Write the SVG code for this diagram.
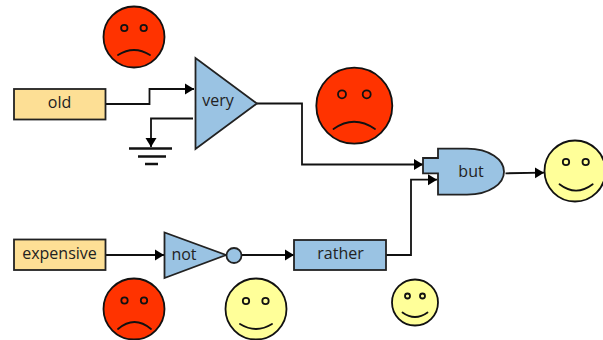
<svg xmlns="http://www.w3.org/2000/svg" width="603" height="340" viewBox="0 0 603 340">
<style>
.box{stroke:#222;stroke-width:1.8}
.in{fill:#fddf95}
.blue{fill:#9ac3e3}
.sad{fill:#ff3300}
.happy{fill:#ffff99}
.face{stroke:#111;stroke-width:1.8}
.mouth{fill:none;stroke:#111;stroke-width:1.8;stroke-linecap:round}
.wire{fill:none;stroke:#111;stroke-width:1.8}
.gnd{stroke:#111;stroke-width:2.5}
text{font-family:"Open Sans",sans-serif;font-size:16px;fill:#222;text-anchor:middle}
</style>
<defs>
<marker id="arrow" markerUnits="userSpaceOnUse" markerWidth="10" markerHeight="12" refX="9" refY="6" orient="auto"><path d="M0 0.500L9 6L0 11.500Z" fill="#000"/></marker>
</defs>
<g id="connectors">
<path class="wire" marker-end="url(#arrow)" d="M106 104H149.500V89H194"/>
<path class="wire" marker-end="url(#arrow)" d="M193 118.500H151V147"/>
<path class="wire" marker-end="url(#arrow)" d="M257 103.500H302V164.500H423"/>
<path class="wire" marker-end="url(#arrow)" d="M106 255H164"/>
<path class="wire" marker-end="url(#arrow)" d="M242 255H294"/>
<path class="wire" marker-end="url(#arrow)" d="M386 255H411V179.700H437"/>
<path class="wire" marker-end="url(#arrow)" d="M505.500 173.300L544 172.700"/>
</g>
<g id="ground">
<line class="gnd" x1="129" y1="148.500" x2="172" y2="148.500"/>
<line class="gnd" x1="138" y1="156.500" x2="166" y2="156.500"/>
<line class="gnd" x1="145" y1="164" x2="158" y2="164"/>
</g>
<g id="node-old"><rect class="box in" x="14" y="89" width="91.500" height="30.500"/><text x="59.500" y="107.500">old</text></g>
<g id="node-very"><path class="box blue" d="M195.500 58V149L257 103.500Z"/><text x="218" y="105.500">very</text></g>
<g id="node-expensive"><rect class="box in" x="14" y="239.500" width="91.500" height="30.500"/><text x="59.500" y="258.500">expensive</text></g>
<g id="node-not"><path class="box blue" d="M164.500 232.500V278L226 255Z"/><circle class="box blue" cx="234" cy="255.500" r="7.500"/><text x="184" y="259.500">not</text></g>
<g id="node-rather"><rect class="box blue" x="294" y="240" width="92" height="30"/><text x="340.500" y="258.500">rather</text></g>
<g id="node-but"><path class="box blue" d="M423 158H438V148.700H467C490 148.700 504 160 504 171.700C504 183.400 490 194.700 467 194.700H438V173.300H423Z"/><text x="471" y="176.500">but</text></g>
<g id="face-sad-top"><circle class="face sad" cx="134" cy="37" r="30.500"/><circle class="face sad" cx="124.300" cy="28" r="3.200"/><circle class="face sad" cx="143.700" cy="28" r="3.200"/><path class="mouth" d="M118 55Q134 45 150 55"/></g>
<g id="face-sad-large"><circle class="face sad" cx="354.300" cy="105.700" r="38"/><circle class="face sad" cx="342" cy="94.300" r="4"/><circle class="face sad" cx="366.700" cy="94.300" r="4"/><path class="mouth" d="M333.500 129Q354 114.500 375 129"/></g>
<g id="face-sad-bottom"><circle class="face sad" cx="134" cy="309" r="30.500"/><circle class="face sad" cx="124.500" cy="300.500" r="3.200"/><circle class="face sad" cx="144" cy="300.500" r="3.200"/><path class="mouth" d="M118 329Q134.500 315 151 329"/></g>
<g id="face-happy-right"><circle class="face happy" cx="575" cy="171" r="30.500"/><circle class="face happy" cx="566" cy="162" r="3.200"/><circle class="face happy" cx="585.700" cy="162" r="3.200"/><path class="mouth" d="M559.500 184.300Q576 197 592.700 184.300"/></g>
<g id="face-happy-bottom"><circle class="face happy" cx="256" cy="309" r="30.500"/><circle class="face happy" cx="246" cy="301" r="3.200"/><circle class="face happy" cx="265.500" cy="301" r="3.200"/><path class="mouth" d="M240 324Q256 334 272 324"/></g>
<g id="face-happy-small"><circle class="face happy" cx="415" cy="302.500" r="23"/><circle class="face happy" cx="407.500" cy="296" r="2.500"/><circle class="face happy" cx="422.500" cy="296" r="2.500"/><path class="mouth" d="M402.500 312.500Q415 321.500 427.500 312.500"/></g>
</svg>
